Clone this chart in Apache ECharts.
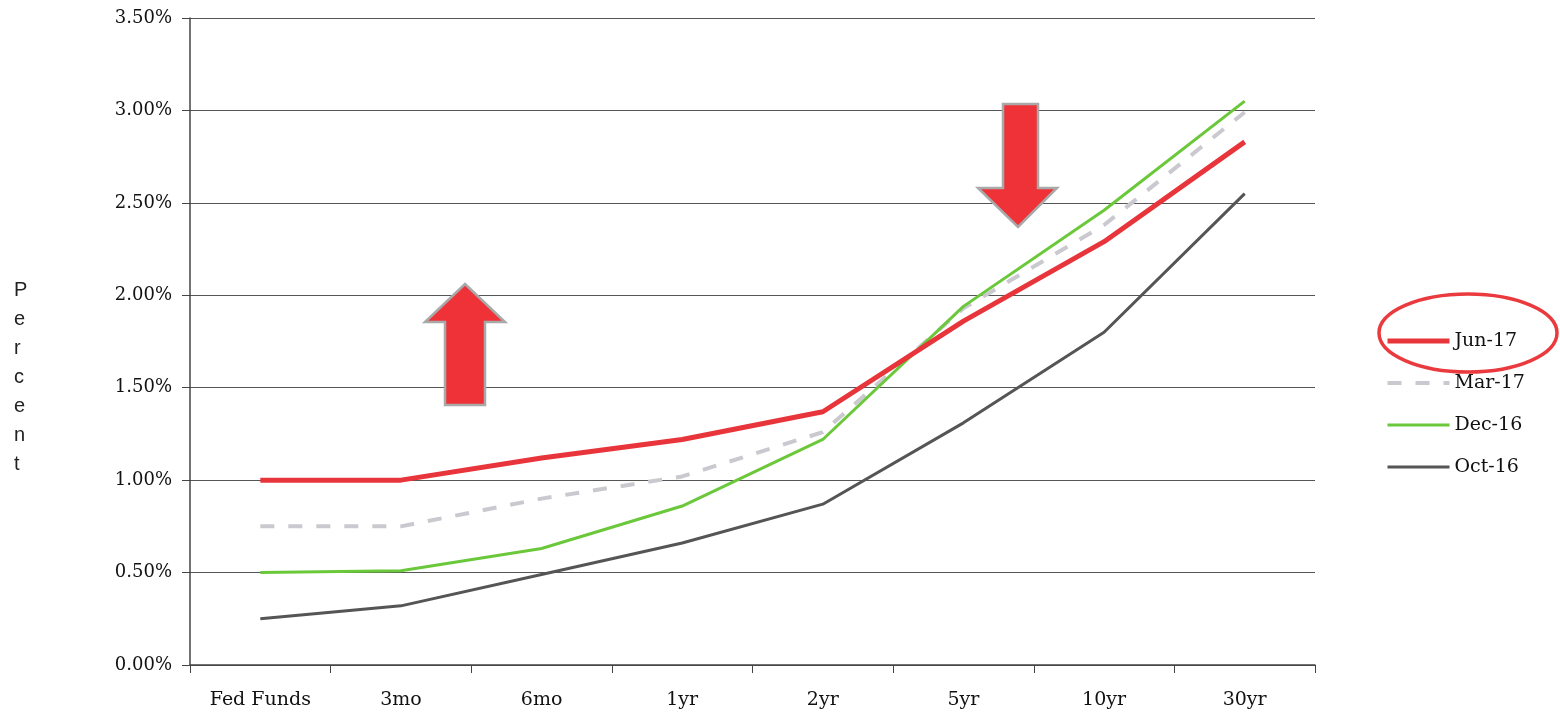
<!DOCTYPE html>
<html>
<head>
<meta charset="utf-8">
<script src="https://cdn.jsdelivr.net/npm/echarts@6/dist/echarts.min.js"></script>
<style>
  html, body { margin: 0; padding: 0; background: #ffffff; }
  #chart { width: 1560px; height: 725px; }
</style>
</head>
<body>
<div id="chart"></div>
<script>
// ---- data ----
const categories = ['Fed Funds', '3mo', '6mo', '1yr', '2yr', '5yr', '10yr', '30yr'];
const seriesNames = ['Jun-17', 'Mar-17', 'Dec-16', 'Oct-16'];
const jun17 = [1.00, 1.00, 1.12, 1.22, 1.37, 1.86, 2.29, 2.83];
const mar17 = [0.75, 0.75, 0.90, 1.02, 1.26, 1.93, 2.38, 2.99];
const dec16 = [0.50, 0.51, 0.63, 0.86, 1.22, 1.94, 2.46, 3.05];
const oct16 = [0.25, 0.32, 0.49, 0.66, 0.87, 1.31, 1.80, 2.55];
const yTicks = [0, 0.5, 1.0, 1.5, 2.0, 2.5, 3.0, 3.5];

const serif = '"DejaVu Serif", "Liberation Serif", serif';
const chart = echarts.init(document.getElementById('chart'), null, { renderer: 'canvas' });

const option = {
  backgroundColor: '#ffffff',
  animation: false,
  grid: { left: 190, right: 245, top: 18, bottom: 60, containLabel: false },
  legend: {
    orient: 'vertical',
    left: 1380,
    top: 326,
    itemWidth: 62,
    itemHeight: 14,
    itemGap: 22,
    data: seriesNames,
    itemStyle: { opacity: 0 },
    lineStyle: { width: 'inherit', type: 'inherit' },
    textStyle: { fontFamily: serif, fontSize: 19, color: '#111', lineHeight: 20 }
  },
  xAxis: {
    type: 'category',
    data: categories,
    boundaryGap: true,
    axisLine: { lineStyle: { color: '#444', width: 1.5 } },
    axisTick: { show: true, length: 8, lineStyle: { color: '#444' } },
    axisLabel: { fontFamily: serif, fontSize: 19, color: '#111', margin: 26 }
  },
  yAxis: {
    type: 'value',
    min: yTicks[0],
    max: yTicks[yTicks.length - 1],
    interval: 0.5,
    axisLine: { show: true, lineStyle: { color: '#444', width: 1.5 } },
    axisTick: { show: true, length: 8, lineStyle: { color: '#444' } },
    splitLine: { show: true, lineStyle: { color: '#555', width: 1.2 } },
    axisLabel: {
      fontFamily: serif, fontSize: 18, color: '#111', margin: 18,
      formatter: v => v.toFixed(2) + '%'
    }
  },
  series: [
    { name: seriesNames[0], type: 'line', data: jun17, symbol: 'none', z: 5,
      lineStyle: { color: '#e8353b', width: 5 }, itemStyle: { color: '#e8353b' } },
    { name: seriesNames[1], type: 'line', data: mar17, symbol: 'none', z: 2,
      lineStyle: { color: '#c9c9cf', width: 4, type: [14, 14] }, itemStyle: { color: '#c9c9cf' } },
    { name: seriesNames[2], type: 'line', data: dec16, symbol: 'none', z: 3,
      lineStyle: { color: '#6ac83a', width: 3 }, itemStyle: { color: '#6ac83a' } },
    { name: seriesNames[3], type: 'line', data: oct16, symbol: 'none', z: 4,
      lineStyle: { color: '#555555', width: 3 }, itemStyle: { color: '#555555' } }
  ],
  graphic: [
    { type: 'text', left: 14, top: 276,
      style: { text: 'P\ne\nr\nc\ne\nn\nt', font: '20px "Liberation Sans", Arial, sans-serif',
               fill: '#222', lineHeight: 29, textAlign: 'left' } },
    // up arrow
    { type: 'polygon', z: 10,
      shape: { points: [[465, 284], [505, 322], [485, 322], [485, 405], [445, 405], [445, 322], [425, 322]] },
      style: { fill: '#ee3238', stroke: '#a9a9a9', lineWidth: 2.5 } },
    // down arrow
    { type: 'polygon', z: 10,
      shape: { points: [[1003, 104], [1038, 104], [1038, 188], [1057, 188], [1018, 227], [978, 188], [1003, 188]] },
      style: { fill: '#ee3238', stroke: '#a9a9a9', lineWidth: 2.5 } },
    // ellipse around Jun-17 legend entry
    { type: 'ellipse', z: 10,
      shape: { cx: 1468, cy: 333, rx: 89, ry: 39 },
      style: { fill: 'none', stroke: '#ea3a3e', lineWidth: 3.5 } }
  ]
};
chart.setOption(option);
</script>
</body>
</html>
